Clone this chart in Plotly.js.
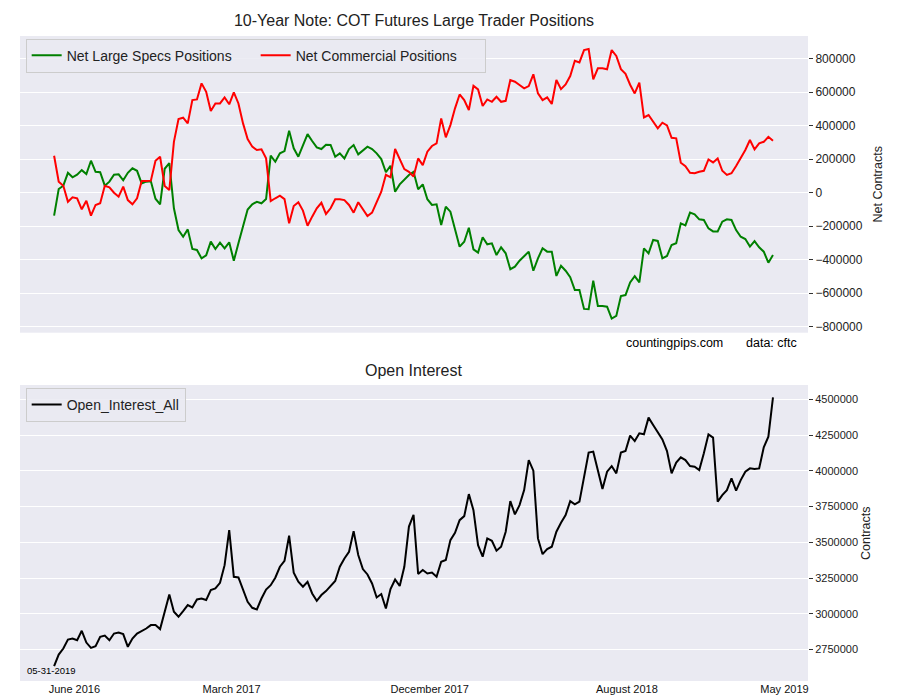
<!DOCTYPE html>
<html>
<head>
<meta charset="utf-8">
<script src="https://cdn.plot.ly/plotly-3.0.1.min.js"></script>
<style>html,body{margin:0;padding:0;background:#fff;}#chart{width:900px;height:700px;}</style>
</head>
<body>
<div id="chart"></div>
<script>
// Weekly COT data, 10-Year Note (157 weeks ending 05-31-2019)
const netLargeSpecs = [
-137000,22000,42000,119000,92000,108000,135000,112000,191000,125000,
122000,42000,66000,108000,110000,74000,119000,146000,131000,56000,
66000,68000,-36000,-69000,143000,177000,-93000,-223000,-263000,-219000,
-336000,-342000,-392000,-374000,-292000,-336000,-298000,-332000,-296000,-406000,
-302000,-199000,-100000,-69000,-54000,-63000,-38000,221000,185000,235000,
249000,370000,265000,215000,285000,350000,309000,271000,261000,287000,
285000,215000,235000,205000,261000,285000,229000,255000,275000,261000,
235000,201000,122000,161000,6000,50000,76000,106000,125000,20000,
50000,-39000,-73000,-69000,-193000,-84000,-113000,-213000,-322000,-293000,
-209000,-338000,-358000,-266000,-308000,-302000,-372000,-326000,-362000,-457000,
-442000,-406000,-376000,-352000,-466000,-392000,-332000,-352000,-352000,-497000,
-436000,-466000,-505000,-581000,-581000,-694000,-696000,-525000,-676000,-676000,
-681000,-752000,-736000,-617000,-611000,-536000,-499000,-536000,-332000,-362000,
-282000,-288000,-392000,-378000,-312000,-302000,-183000,-195000,-119000,-129000,
-159000,-163000,-213000,-231000,-231000,-173000,-159000,-163000,-223000,-263000,
-277000,-322000,-289000,-326000,-352000,-418000,-372000
];
const netCommercial = [
221000,66000,42000,-54000,-27000,-33000,-99000,-48000,-137000,-73000,
-63000,42000,32000,0,-24000,36000,-44000,-69000,-33000,70000,
70000,72000,191000,215000,40000,16000,304000,440000,448000,414000,
553000,557000,653000,603000,488000,533000,533000,569000,528000,599000,
533000,414000,320000,275000,255000,259000,205000,-50000,-33000,-18000,
-38000,-183000,-79000,-57000,-107000,-197000,-143000,-93000,-60000,-127000,
-93000,-39000,-39000,-44000,-73000,-119000,-57000,-99000,-139000,-119000,
-57000,6000,107000,92000,261000,199000,141000,125000,96000,205000,
165000,245000,279000,295000,444000,331000,404000,504000,587000,553000,
494000,639000,617000,518000,557000,543000,573000,543000,549000,673000,
663000,643000,623000,637000,707000,593000,553000,569000,530000,673000,
619000,647000,697000,788000,778000,852000,858000,677000,743000,743000,
737000,852000,817000,738000,710000,645000,593000,657000,450000,464000,
424000,384000,418000,402000,328000,325000,179000,159000,119000,116000,
125000,131000,199000,181000,205000,131000,106000,116000,159000,205000,
255000,315000,259000,295000,304000,334000,310000
];
const openInterest = [
2634000,2715000,2757000,2820000,2827000,2815000,2881000,2799000,2762000,2774000,
2839000,2848000,2815000,2862000,2869000,2858000,2769000,2827000,2862000,2878000,
2897000,2921000,2921000,2893000,3021000,3135000,3014000,2979000,3019000,3061000,
3044000,3100000,3107000,3096000,3166000,3177000,3217000,3340000,3585000,3259000,
3254000,3173000,3084000,3042000,3030000,3107000,3170000,3200000,3252000,3329000,
3371000,3546000,3287000,3224000,3189000,3224000,3142000,3091000,3131000,3159000,
3194000,3229000,3329000,3387000,3434000,3578000,3411000,3313000,3275000,3212000,
3114000,3138000,3037000,3173000,3240000,3194000,3329000,3610000,3692000,3278000,
3306000,3282000,3289000,3259000,3364000,3376000,3515000,3567000,3655000,3683000,
3837000,3725000,3480000,3399000,3527000,3511000,3441000,3469000,3574000,3788000,
3695000,3760000,3865000,4075000,4001000,3527000,3417000,3452000,3469000,3574000,
3637000,3690000,3788000,3765000,3784000,3970000,4127000,4134000,4001000,3872000,
3994000,4033000,3982000,4127000,4138000,4246000,4208000,4262000,4255000,4372000,
4320000,4267000,4220000,4138000,3982000,4057000,4094000,4075000,4033000,4029000,
4005000,4122000,4255000,4232000,3784000,3830000,3865000,3947000,3861000,3935000,
3994000,4017000,4012000,4017000,4164000,4239000,4514000
];
const xTickLabels = ['June 2016','March 2017','December 2017','August 2018','May 2019'];
const netTicks = [-800000,-600000,-400000,-200000,0,200000,400000,600000,800000];
const oiTicks = [2750000,3000000,3250000,3500000,3750000,4000000,4250000,4500000];

const weeks = netLargeSpecs.map((_, i) => i);
const xTickPos = [4.4, 38.5, 81.5, 124.3, 158.5];
const xRange = [-7.4, 163.6];

const traces = [
  {x: weeks, y: netLargeSpecs, type:'scatter', mode:'lines', name:'Net Large Specs Positions',
   line:{color:'#008000', width:2}, xaxis:'x', yaxis:'y', legend:'legend'},
  {x: weeks, y: netCommercial, type:'scatter', mode:'lines', name:'Net Commercial Positions',
   line:{color:'#ff0000', width:2}, xaxis:'x', yaxis:'y', legend:'legend'},
  {x: weeks, y: openInterest, type:'scatter', mode:'lines', name:'Open_Interest_All',
   line:{color:'#000000', width:2}, xaxis:'x2', yaxis:'y2', legend:'legend2'}
];

const fontFam = 'Liberation Sans, Arial, sans-serif';
const layout = {
  width:900, height:700,
  paper_bgcolor:'#ffffff', plot_bgcolor:'#EAEAF2',
  font:{family:fontFam, color:'#222222'},
  margin:{l:20, r:92, t:36, b:19},
  showlegend:true,
  title:{text:'10-Year Note: COT Futures Large Trader Positions', font:{size:16, color:'#222222'},
         x:0.5, xref:'paper', xanchor:'center', y:1-20/700, yref:'container', yanchor:'middle'},
  xaxis:{domain:[0,1], range:xRange, anchor:'y', showticklabels:false, showgrid:false, zeroline:false, showline:false, ticks:''},
  yaxis:{domain:[0.540,1], range:[-836000,936000], anchor:'x', side:'right', tickvals:netTicks, tickformat:'d',
         gridcolor:'#ffffff', gridwidth:1, zeroline:false, showline:false, ticks:'outside', ticklen:4, tickcolor:'#333333',
         tickfont:{size:12, color:'#222222'}},
  xaxis2:{domain:[0,1], range:xRange, anchor:'y2', tickvals:xTickPos, ticktext:xTickLabels, showgrid:false,
          zeroline:false, showline:false, ticks:'', tickfont:{size:11, color:'#111111'}},
  yaxis2:{domain:[0,0.4589], range:[2530000,4600000], anchor:'x2', side:'right', tickvals:oiTicks, tickformat:'d',
          gridcolor:'#ffffff', gridwidth:1, zeroline:false, showline:false, ticks:'outside', ticklen:4, tickcolor:'#333333',
          tickfont:{size:11, color:'#222222'}},
  legend:{x:0.0072, y:0.996, xanchor:'left', yanchor:'top', orientation:'h', entrywidth:184, entrywidthmode:'pixels',
          bgcolor:'rgba(234,234,242,0.85)', bordercolor:'#cccccc', borderwidth:1, font:{size:14, color:'#222222'}},
  legend2:{x:0.0072, y:0.4545, xanchor:'left', yanchor:'top', orientation:'h',
          bgcolor:'rgba(234,234,242,0.85)', bordercolor:'#cccccc', borderwidth:1, font:{size:14, color:'#222222'}},
  annotations:[
    {text:'Open Interest', xref:'paper', yref:'paper', x:0.5, y:(681-370)/645, xanchor:'center', yanchor:'middle',
     showarrow:false, font:{size:16, color:'#222222'}},
    {text:'Net Contracts', xref:'paper', yref:'paper', x:(877-20)/788, y:(681-184.5)/645, xanchor:'center', yanchor:'middle',
     textangle:-90, showarrow:false, font:{size:12.5, color:'#222222'}},
    {text:'Contracts', xref:'paper', yref:'paper', x:(866-20)/788, y:(681-533)/645, xanchor:'center', yanchor:'middle',
     textangle:-90, showarrow:false, font:{size:12.5, color:'#222222'}},
    {text:'countingpips.com', xref:'paper', yref:'paper', x:(674-20)/788, y:(681-343)/645, xanchor:'center', yanchor:'middle',
     showarrow:false, font:{size:12.5, color:'#000000'}},
    {text:'data: cftc', xref:'paper', yref:'paper', x:(744-20)/788, y:(681-343)/645, xanchor:'left', yanchor:'middle',
     showarrow:false, font:{size:12.5, color:'#000000'}},
    {text:'05-31-2019', xref:'paper', yref:'paper', x:(25-20)/788, y:(681-670)/645, xanchor:'left', yanchor:'middle',
     showarrow:false, font:{size:9.5, color:'#000000'}}
  ]
};

Plotly.newPlot('chart', traces, layout, {displayModeBar:false, staticPlot:true});
</script>
</body>
</html>
